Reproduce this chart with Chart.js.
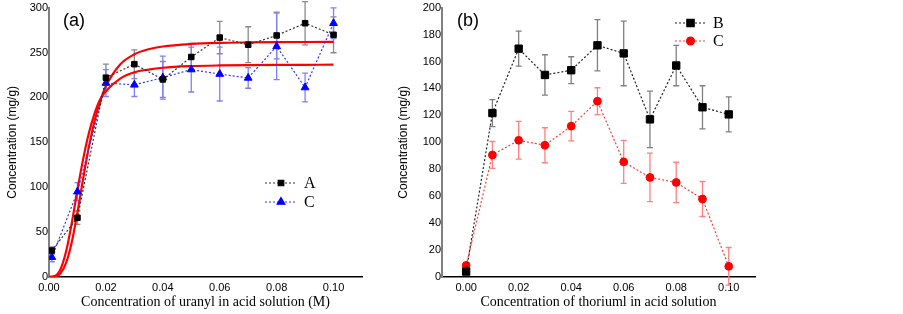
<!DOCTYPE html>
<html>
<head>
<meta charset="utf-8">
<script src="https://cdn.jsdelivr.net/npm/chart.js@4/dist/chart.umd.min.js"></script>
<style>
  html, body { margin: 0; padding: 0; background: #fff; width: 903px; height: 314px; overflow: hidden; }
  canvas { position: absolute; top: 0; }
  #chartA { left: 0; }
  #chartB { left: 380px; }
  .tag { position: absolute; font: 18px "Liberation Sans", Arial, sans-serif; color: #000; }
</style>
</head>
<body>
<canvas id="chartA" width="380" height="314"></canvas>
<canvas id="chartB" width="420" height="314"></canvas>
<div class="tag" style="left:63px;top:10px">(a)</div>
<div class="tag" style="left:457px;top:10px">(b)</div>
<script>
/* ---------- panel (a): uranyl ---------- */
var uranylConc = [0.001, 0.01, 0.02, 0.03, 0.04, 0.05, 0.06, 0.07, 0.08, 0.09, 0.10];
var uptakeA    = [29.5, 66, 222, 237, 220, 245, 266.6, 258.7, 269, 282.6, 269.7];
var errA       = [4, 7.5, 15, 16, 20, 15, 18, 20, 26, 24, 20];
var uptakeC    = [22, 95, 216, 214, 222, 231, 226, 221.7, 256.8, 211, 282.6];
var errC       = [5, 10, 15, 13, 24, 25, 30, 11.5, 37, 16, 17];

// fitted curves
var fitConc  = [0, 0.002, 0.004, 0.006, 0.008, 0.010, 0.012, 0.014, 0.016, 0.018, 0.020, 0.025, 0.030, 0.035, 0.040, 0.050, 0.060, 0.070, 0.080, 0.090, 0.100];
var fitUpper = [0, 0.4, 3.9, 15.6, 38.7, 71.9, 109.4, 144.4, 173.5, 195.9, 212.4, 236.7, 248, 253.6, 256.7, 259.5, 260.7, 261.2, 261.5, 261.7, 261.8];
var fitLower = [0, 1.0, 8.4, 28.3, 60.1, 97.1, 131.3, 160, 182, 198, 207, 221, 228, 231, 233, 234.8, 235.6, 236, 236.2, 236.3, 236.4];

/* ---------- panel (b): thorium ---------- */
var thoriumConc = [0, 0.01, 0.02, 0.03, 0.04, 0.05, 0.06, 0.07, 0.08, 0.09, 0.10];
var uptakeB     = [4, 121.7, 169.5, 150, 153.5, 172, 166, 117, 157, 126, 120.7];
var errB        = [1.5, 10, 13, 15, 10, 19, 24, 21, 15, 16, 13];
var uptakeCb    = [8.6, 90.6, 101.5, 97.8, 112, 130.5, 85.5, 73.9, 70.2, 57.9, 7.9];
var errCb       = [2, 10, 14, 13, 11, 10, 16, 18, 15, 13, 14];

var concTicks  = [0, 0.02, 0.04, 0.06, 0.08, 0.10];
var yTicksA    = [0, 50, 100, 150, 200, 250, 300];
var yTicksB    = [0, 20, 40, 60, 80, 100, 120, 140, 160, 180, 200];

var SANS = '"Liberation Sans", Arial, sans-serif';
var SERIF = '"Liberation Serif", "Times New Roman", serif';

function pts(xs, ys) {
  return xs.map(function (x, i) { return { x: x, y: ys[i] }; });
}

/* error bars, drawn under the lines and markers */
var errorBars = {
  id: 'errorBars',
  beforeDatasetsDraw: function (chart) {
    var ctx = chart.ctx, ys = chart.scales.y;
    chart.data.datasets.forEach(function (ds, i) {
      if (!ds.errors) return;
      var meta = chart.getDatasetMeta(i);
      ctx.save();
      ctx.strokeStyle = ds.errorColor;
      ctx.lineWidth = 1.3;
      meta.data.forEach(function (pt, j) {
        var v = ds.data[j].y, e = ds.errors[j];
        var top = ys.getPixelForValue(v + e), bot = ys.getPixelForValue(v - e), x = pt.x;
        ctx.beginPath();
        ctx.moveTo(x, top); ctx.lineTo(x, bot);
        ctx.moveTo(x - 3, top); ctx.lineTo(x + 3, top);
        ctx.moveTo(x - 3, bot); ctx.lineTo(x + 3, bot);
        ctx.stroke();
      });
      ctx.restore();
    });
  }
};

/* small legend: dotted line + marker + label */
var lineLegend = {
  id: 'lineLegend',
  afterDraw: function (chart, args, opts) {
    var ctx = chart.ctx, row = 0;
    chart.data.datasets.forEach(function (ds) {
      if (!ds.legendLabel) return;
      var y = opts.y + row * opts.gap, x0 = opts.x, x1 = opts.x + opts.len;
      ctx.save();
      ctx.strokeStyle = ds.borderColor;
      ctx.lineWidth = ds.borderWidth;
      ctx.setLineDash(ds.borderDash || []);
      ctx.beginPath(); ctx.moveTo(x0, y); ctx.lineTo(x1, y); ctx.stroke();
      ctx.setLineDash([]);
      ctx.fillStyle = ds.pointBackgroundColor;
      ctx.strokeStyle = ds.pointBorderColor;
      Chart.helpers.drawPoint(ctx, { pointStyle: ds.pointStyle, radius: ds.pointRadius, rotation: 0, borderWidth: 1 }, (x0 + x1) / 2, y);
      ctx.fillStyle = '#000';
      ctx.font = '16px ' + SERIF;
      ctx.textBaseline = 'middle';
      ctx.fillText(ds.legendLabel, x1 + 7, y + 1);
      ctx.restore();
      row++;
    });
  }
};

function dataSet(label, xs, ys, errs, opt) {
  return {
    legendLabel: label,
    data: pts(xs, ys),
    errors: errs,
    errorColor: opt.err,
    showLine: true,
    borderColor: opt.line,
    borderWidth: 1.2,
    borderDash: [2, 2],
    pointStyle: opt.style,
    pointRadius: opt.r,
    pointBackgroundColor: opt.fill,
    pointBorderColor: opt.fill,
    pointBorderWidth: 1,
    order: 0
  };
}

function fitSet(ys) {
  return {
    data: pts(fitConc, ys),
    showLine: true,
    borderColor: '#ff0000',
    borderWidth: 2.2,
    pointRadius: 0,
    cubicInterpolationMode: 'monotone',
    order: 1
  };
}

function axes(xmin, yTicks, yWidth, xTitle, yTitlePad) {
  return {
    x: {
      type: 'linear', min: xmin, max: 0.11,
      afterBuildTicks: function (s) { s.ticks = concTicks.map(function (v) { return { value: v }; }); },
      afterFit: function (s) { s.height = 37; },
      grid: { display: false, drawTicks: false },
      border: { display: true, color: '#000', width: 1.5 },
      ticks: { padding: 4, color: '#000', font: { family: SANS, size: 11 }, maxRotation: 0,
               callback: function (v) { return v.toFixed(2); } },
      title: { display: true, text: xTitle, color: '#000', font: { family: SERIF, size: 14 }, padding: { top: 0, bottom: 3 } }
    },
    y: {
      min: 0, max: yTicks[yTicks.length - 1],
      afterBuildTicks: function (s) { s.ticks = yTicks.map(function (v) { return { value: v }; }); },
      afterFit: function (s) { s.width = yWidth; },
      grid: { display: false, drawTicks: false },
      border: { display: true, color: '#808080', width: 2 },
      ticks: { padding: 1, color: '#000', font: { family: SANS, size: 11 } },
      title: { display: true, text: 'Concentration (mg/g)', color: '#000', font: { family: SANS, size: 12 }, padding: { top: yTitlePad, bottom: 0 } }
    }
  };
}

var common = {
  responsive: false,
  animation: false,
  plugins: { legend: { display: false }, tooltip: { enabled: false } }
};

new Chart(document.getElementById('chartA'), {
  type: 'scatter',
  data: {
    datasets: [
      dataSet('A', uranylConc, uptakeA, errA, { line: '#333333', err: '#8a8a8a', fill: '#000000', style: 'rect', r: 3.9 }),
      dataSet('C', uranylConc, uptakeC, errC, { line: '#3333ff', err: '#8080ff', fill: '#0000ff', style: 'triangle', r: 4.5 }),
      fitSet(fitUpper),
      fitSet(fitLower)
    ]
  },
  options: Object.assign({}, common, {
    layout: { padding: { top: 6, right: 18, left: 0, bottom: 0 } },
    scales: axes(0, yTicksA, 49, 'Concentration of uranyl in acid solution (M)', 5),
    plugins: Object.assign({}, common.plugins, { lineLegend: { x: 265, y: 183, gap: 19, len: 32 } })
  }),
  plugins: [errorBars, lineLegend]
});

new Chart(document.getElementById('chartB'), {
  type: 'scatter',
  data: {
    datasets: [
      dataSet('B', thoriumConc, uptakeB, errB, { line: '#222222', err: '#808080', fill: '#000000', style: 'rect', r: 5.2 }),
      dataSet('C', thoriumConc, uptakeCb, errCb, { line: '#ff3b3b', err: '#ff8080', fill: '#ff0000', style: 'circle', r: 3.9 })
    ]
  },
  options: Object.assign({}, common, {
    layout: { padding: { top: 6, right: 45, left: 0, bottom: 0 } },
    scales: axes(-0.0092, yTicksB, 62, 'Concentration of thoriuml in acid solution', 16),
    plugins: Object.assign({}, common.plugins, { lineLegend: { x: 295, y: 23, gap: 18, len: 31 } })
  }),
  plugins: [errorBars, lineLegend]
});
</script>
</body>
</html>
